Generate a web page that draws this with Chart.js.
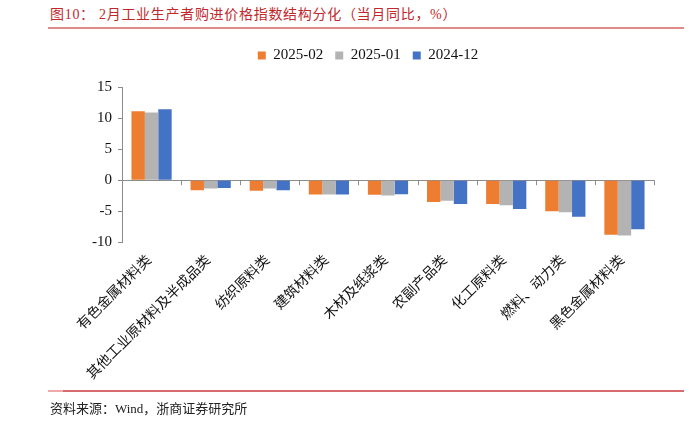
<!DOCTYPE html>
<html>
<head>
<meta charset="utf-8">
<script src="https://cdn.jsdelivr.net/npm/chart.js@4.4.1/dist/chart.umd.min.js"></script>
<style>
  body { margin: 0; background: #fff; }
  #wrap { position: relative; width: 696px; height: 421px; }
  #chart { position: absolute; left: 0; top: 0; }
  .title {
    position: absolute; left: 50px; top: 3px;
    font: 14px 'Liberation Serif', 'Noto Sans CJK SC', serif;
    letter-spacing: 0.7px;
    color: #c0282d; white-space: nowrap;
  }
  .topline { position: absolute; left: 48px; top: 27px; width: 636px; height: 2px; background: #e08a8c; }
  .botline { position: absolute; left: 48px; top: 390px; width: 636px; height: 2px; background: #d66a6c; }
  .botline span { position: absolute; left: 0; top: 0; width: 15px; height: 2px; background: #eeaaaa; }
  .source {
    position: absolute; left: 50px; top: 398px;
    font: 13px 'Liberation Serif', 'Noto Sans CJK SC', serif; color: #222;
  }
</style>
</head>
<body>
<div id="wrap">
  <div class="title">图10：&nbsp;2月工业生产者购进价格指数结构分化（当月同比，%）</div>
  <div class="topline"></div>
  <canvas id="chart" width="696" height="421"></canvas>
  <div class="botline"><span></span></div>
  <div class="source">资料来源：Wind，浙商证券研究所</div>
</div>
<script>
const categories = ['有色金属材料类', '其他工业原材料及半成品类', '纺织原料类', '建筑材料类', '木材及纸浆类',
  '农副产品类', '化工原料类', '燃料、动力类', '黑色金属材料类'];
const feb2025 = [11.1, -1.6, -1.7, -2.3, -2.35, -3.5, -3.85, -5.0, -8.8];
const jan2025 = [10.9, -1.35, -1.35, -2.3, -2.45, -3.3, -4.05, -5.15, -8.9];
const dec2024 = [11.4, -1.25, -1.6, -2.3, -2.25, -3.85, -4.65, -5.9, -7.9];
const seriesNames = ['2025-02', '2025-01', '2024-12'];
const seriesColors = ['#ed7d31', '#b3b3b3', '#4472c4'];

const serif = "'Liberation Serif', 'Noto Sans CJK SC', serif";
const axisColor = '#8c8c8c';

// small tick marks under the zero line at category boundaries
const boundaryTicks = {
  id: 'boundaryTicks',
  afterDatasetsDraw(chart) {
    const x = chart.scales.x, y = chart.scales.y;
    const y0 = y.getPixelForValue(0);
    const ctx = chart.ctx;
    ctx.save();
    ctx.strokeStyle = axisColor;
    ctx.lineWidth = 1;
    const n = categories.length;
    for (let i = 1; i <= n; i++) {
      const px = i < n ? (x.getPixelForValue(i - 1) + x.getPixelForValue(i)) / 2 : x.right;
      ctx.beginPath();
      ctx.moveTo(Math.round(px) + 0.5, y0);
      ctx.lineTo(Math.round(px) + 0.5, y0 + 5);
      ctx.stroke();
    }
    ctx.restore();
  }
};

// extra room under the legend
const legendGap = {
  id: 'legendGap',
  beforeInit(chart) {
    const fit = chart.legend.fit;
    chart.legend.fit = function () {
      fit.bind(chart.legend)();
      this.height += 14;
    };
  }
};

new Chart(document.getElementById('chart'), {
  type: 'bar',
  data: {
    labels: categories,
    datasets: [feb2025, jan2025, dec2024].map((d, i) => ({
      label: seriesNames[i],
      data: d,
      backgroundColor: seriesColors[i],
      borderWidth: 0,
      barPercentage: 1.0,
      categoryPercentage: 0.68
    }))
  },
  options: {
    responsive: false,
    animation: false,
    layout: { padding: { left: 82, right: 42, top: 36, bottom: 36 } },
    plugins: {
      legend: {
        position: 'top',
        labels: {
          boxWidth: 8, boxHeight: 8, padding: 12,
          color: '#111',
          font: { family: serif, size: 15 }
        }
      },
      tooltip: { enabled: false }
    },
    scales: {
      x: {
        grid: { display: false },
        border: { display: false },
        ticks: {
          color: '#111',
          minRotation: 45, maxRotation: 45,
          labelOffset: -2,
          font: { family: serif, size: 14 },
          padding: 2
        }
      },
      y: {
        min: -10, max: 15,
        afterFit(scale) { scale.width = 40; },
        ticks: {
          stepSize: 5,
          color: '#111',
          padding: 6,
          font: { family: serif, size: 15 }
        },
        grid: {
          tickLength: 4,
          tickColor: axisColor,
          color: ctx => ctx.tick && ctx.tick.value === 0 ? axisColor : 'transparent'
        },
        border: { color: axisColor }
      }
    }
  },
  plugins: [boundaryTicks, legendGap]
});
</script>
</body>
</html>
